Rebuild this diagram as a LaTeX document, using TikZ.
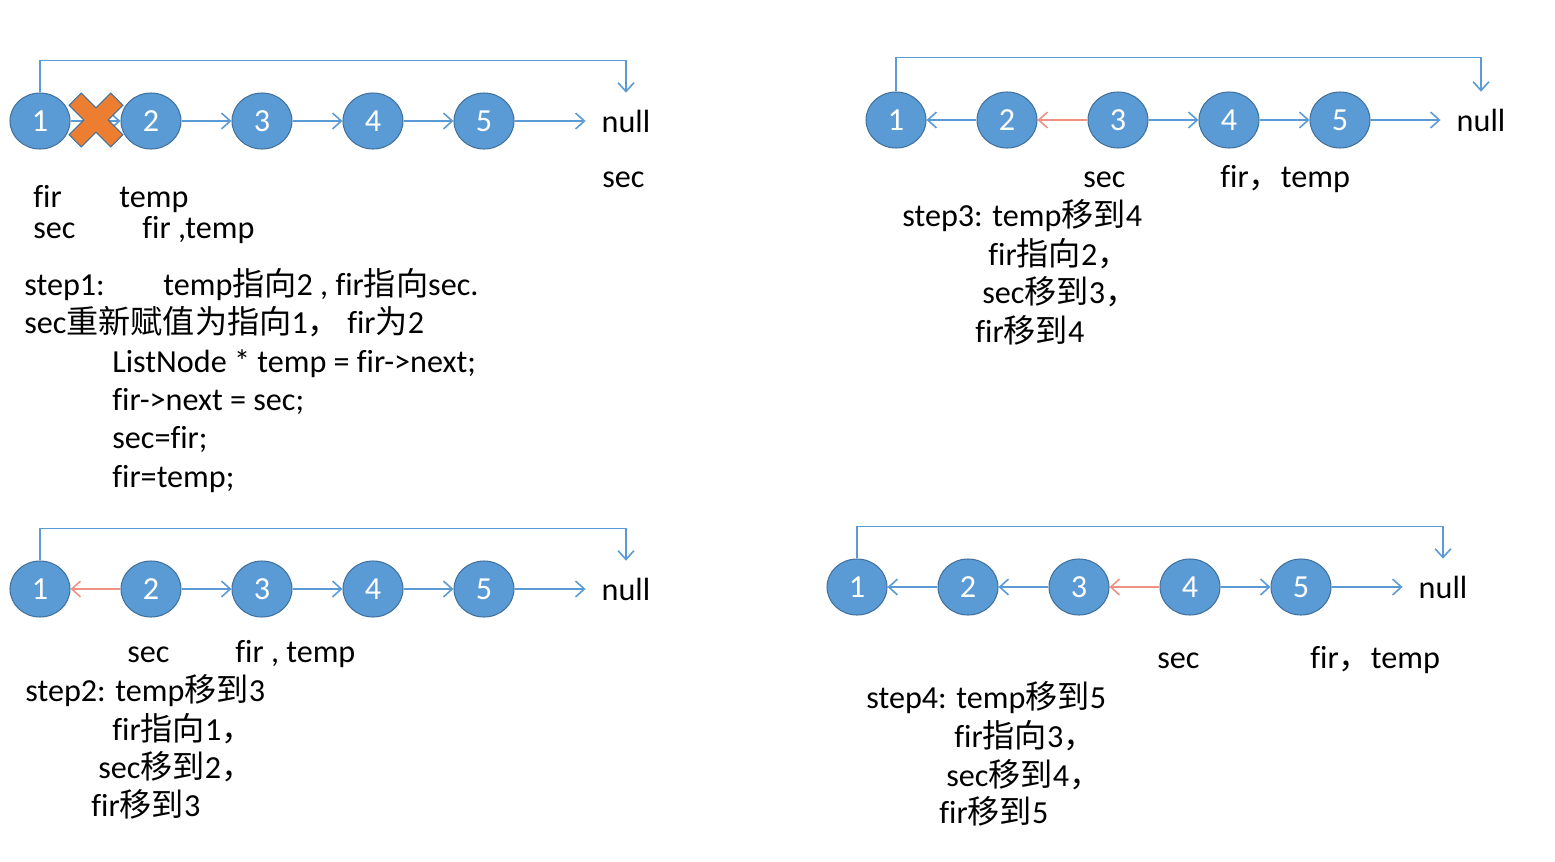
\documentclass[tikz,border=0pt]{standalone}
\usepackage{fontspec}
\setmainfont{Carlito}[Ligatures=NoCommon]
\newfontfamily\cjk{Noto Sans CJK SC}
\usetikzlibrary{arrows.meta,shapes.geometric}
\definecolor{nodeblue}{HTML}{5B9BD5}
\definecolor{nodeedge}{HTML}{41719C}
\definecolor{backred}{HTML}{F09282}
\definecolor{crossorange}{HTML}{ED7D31}
\newcommand{\zh}[1]{{\cjk #1}}

\begin{document}
\begin{tikzpicture}[x=0.02cm,y=-0.02cm,
  lnode/.style={ellipse,fill=nodeblue,draw=nodeedge,line width=0.6pt,minimum width=1.2cm,minimum height=1.12cm,inner sep=0pt,text=white,font=\fontsize{18.3}{22}\selectfont},
  nullnode/.style={inner xsep=9pt,inner ysep=0pt,font=\fontsize{18.3}{22}\selectfont},
  txt/.style={anchor=base west,inner sep=0pt,font=\fontsize{18.3}{22}\selectfont},
  link/.style={draw=nodeblue,line width=0.9pt,-{Straight Barb[length=5pt,width=9pt]}},
  back/.style={link,draw=backred}]
\path[use as bounding box] (0,0) rectangle (1555,862);

% step1 (top left)
\foreach \i in {1,...,5}
  \node[lnode] (a\i) at ({40+111*(\i-1)},121) {\i};
\node[nullnode] (nullA) at (626,121) {null};
\foreach \i/\j in {1/2,2/3,3/4,4/5}
  \draw[link] (a\i.east) -- (a\j.west);
\draw[link] (a5.east) -- (nullA.west);
\draw[link] (a1.north) -- ++(0,-32) -| ([yshift=9.5pt]nullA.north);
\begin{scope}[shift={(96,120)},rotate=45]
\draw[fill=crossorange,draw=nodeedge,line width=0.6pt] (8.5,8.5) -- (29.5,8.5) -- (29.5,-8.5) -- (8.5,-8.5) -- (8.5,-29.5) -- (-8.5,-29.5) -- (-8.5,-8.5) -- (-29.5,-8.5) -- (-29.5,8.5) -- (-8.5,8.5) -- (-8.5,29.5) -- (8.5,29.5) -- cycle;
\end{scope}
\node[txt] (a1fir) at (33,207) {fir};
\node[txt] (a1sec) at (33,238) {sec};
\node[txt] (a2temp) at (119,207) {temp};
\node[txt] (a2fir) at (142,238) {fir ,temp};
\node[txt] (nullAsec) at (602,187) {sec};
\node[txt] (s1a) at (24,295) {step1:};
\node[txt] (s1b) at (163,295) {temp\zh{指向}2 , fir\zh{指向}sec.};
\node[txt] (s1c) at (24,333) {sec\zh{重新赋值为指向}1\zh{，} fir\zh{为}2};
\node[txt] (code1) at (112,372) {ListNode * temp = fir->next;};
\node[txt] (code2) at (112,410) {fir->next = sec;};
\node[txt] (code3) at (112,448) {sec=fir;};
\node[txt] (code4) at (112,487) {fir=temp;};

% step3 (top right)
\foreach \i in {1,...,5}
  \node[lnode] (b\i) at ({896+111*(\i-1)},120) {\i};
\node[nullnode] (nullB) at (1481,120) {null};
\draw[link] (b2.west) -- (b1.east);
\draw[back] (b3.west) -- (b2.east);
\draw[link] (b3.east) -- (b4.west);
\draw[link] (b4.east) -- (b5.west);
\draw[link] (b5.east) -- (nullB.west);
\draw[link] (b1.north) -- ++(0,-34) -| ([yshift=9.5pt]nullB.north);
\node[txt] (b3sec) at (1083,187) {sec};
\node[txt] (b4fir) at (1220,187) {fir\zh{，}temp};
\node[txt] (s3a) at (902,226) {step3: temp\zh{移到}4};
\node[txt] (s3b) at (988,265) {fir\zh{指向}2\zh{，}};
\node[txt] (s3c) at (982,303) {sec\zh{移到}3\zh{，}};
\node[txt] (s3d) at (975,342) {fir\zh{移到}4};

% step2 (bottom left)
\foreach \i in {1,...,5}
  \node[lnode] (c\i) at ({40+111*(\i-1)},589) {\i};
\node[nullnode] (nullC) at (626,589) {null};
\draw[back] (c2.west) -- (c1.east);
\draw[link] (c2.east) -- (c3.west);
\draw[link] (c3.east) -- (c4.west);
\draw[link] (c4.east) -- (c5.west);
\draw[link] (c5.east) -- (nullC.west);
\draw[link] (c1.north) -- ++(0,-32) -| ([yshift=9.5pt]nullC.north);
\node[txt] (c2sec) at (127,662) {sec};
\node[txt] (c3fir) at (235,662) {fir , temp};
\node[txt] (s2a) at (25,701) {step2: temp\zh{移到}3};
\node[txt] (s2b) at (112,740) {fir\zh{指向}1\zh{，}};
\node[txt] (s2c) at (98,778) {sec\zh{移到}2\zh{，}};
\node[txt] (s2d) at (91,816) {fir\zh{移到}3};

% step4 (bottom right)
\foreach \i in {1,...,5}
  \node[lnode] (d\i) at ({857+111*(\i-1)},587) {\i};
\node[nullnode] (nullD) at (1443,587) {null};
\draw[link] (d2.west) -- (d1.east);
\draw[link] (d3.west) -- (d2.east);
\draw[back] (d4.west) -- (d3.east);
\draw[link] (d4.east) -- (d5.west);
\draw[link] (d5.east) -- (nullD.west);
\draw[link] (d1.north) -- ++(0,-32) -| ([yshift=9.5pt]nullD.north);
\node[txt] (d4sec) at (1157,668) {sec};
\node[txt] (d5fir) at (1310,668) {fir\zh{，}temp};
\node[txt] (s4a) at (866,708) {step4: temp\zh{移到}5};
\node[txt] (s4b) at (954,747) {fir\zh{指向}3\zh{，}};
\node[txt] (s4c) at (946,786) {sec\zh{移到}4\zh{，}};
\node[txt] (s4d) at (939,823) {fir\zh{移到}5};
\end{tikzpicture}
\end{document}
